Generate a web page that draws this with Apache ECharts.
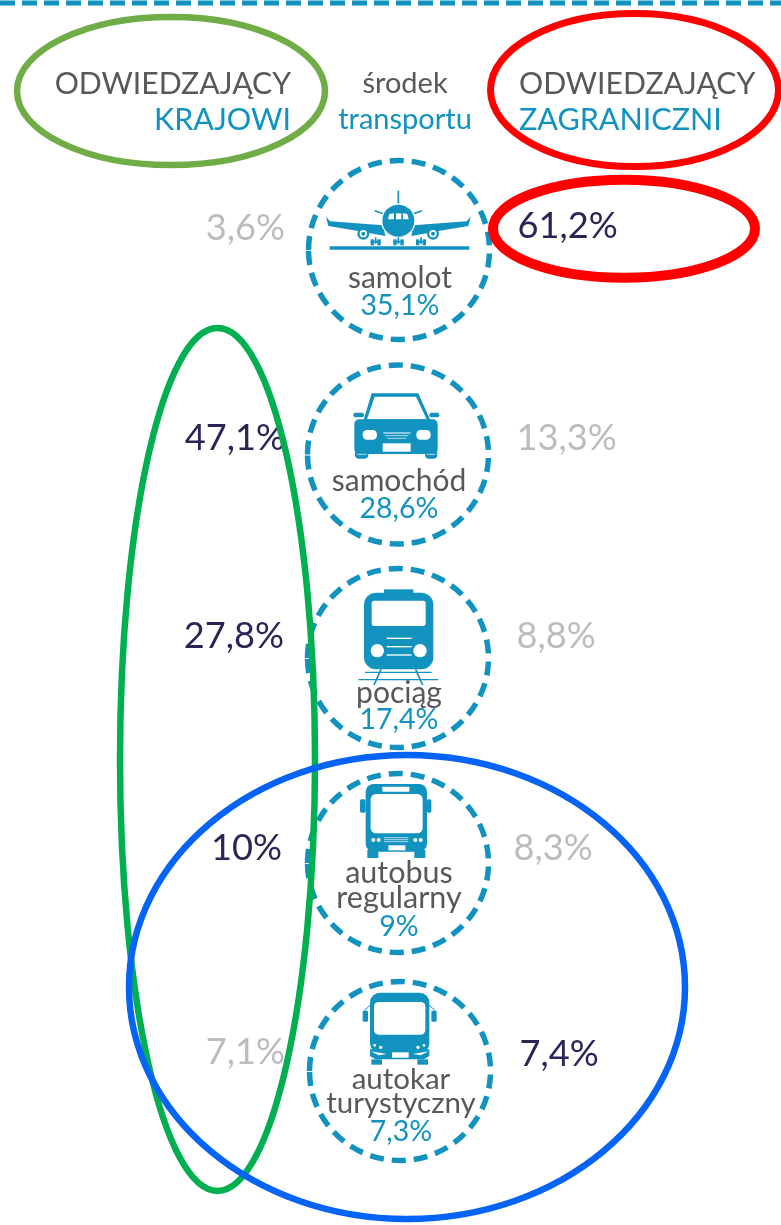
<!DOCTYPE html>
<html>
<head>
<meta charset="utf-8">
<style>
  html, body { margin: 0; padding: 0; background: #fff; }
  #chart { width: 781px; height: 1225px; }
</style>
<script src="https://cdn.jsdelivr.net/npm/echarts@6/dist/echarts.min.js"></script>
</head>
<body>
<div id="chart"></div>
<script>
// dane
var transportNames = [['samolot'], ['samochód'], ['pociąg'], ['autobus', 'regularny'], ['autokar', 'turystyczny']];
var totalShare = ['35,1%', '28,6%', '17,4%', '9%', '7,3%'];
var domesticShare = ['3,6%', '47,1%', '27,8%', '10%', '7,1%'];
var foreignShare = ['61,2%', '13,3%', '8,8%', '8,3%', '7,4%'];
var domesticHighlighted = [false, true, true, true, false];
var foreignHighlighted = [true, false, false, false, true];

var BLUE = '#1192bf', GREY = '#58585a', LIGHT = '#bcbcbe', NAVY = '#2a2557';
var FONT = 'Lato';

// uklad strony (px)
var circleX = [399, 398, 398, 398, 400];
var circleY = [250, 454.5, 658, 863, 1071];
var domesticX = [285, 285, 284, 282, 285];
var domesticY = [228, 438, 636, 848, 1052];
var foreignX = [517.5, 516.5, 516.5, 513.5, 519.5];
var foreignY = [226, 438, 636, 848, 1054];
var nameY = [[278], [481], [693], [873, 898], [1079, 1103]];
var nameSize = [30, 30, 30, 30.5, 29.5];
var shareY = [306, 509, 720, 927, 1132];
var iconOrigin = [[300, 160], [300, 360], [300, 360], [300, 770], [300, 770]];

function textItem(x, y, text, color, size, align) {
    return {
        value: [x, y],
        label: { show: true, position: 'inside', formatter: text, color: color, fontSize: size, fontFamily: FONT, fontWeight: 400, align: align, verticalAlign: 'middle' }
    };
}

var texts = [
    textItem(291, 84, 'ODWIEDZAJĄCY', GREY, 30.2, 'right'),
    textItem(291, 120, 'KRAJOWI', BLUE, 30.5, 'right'),
    textItem(405, 84, 'środek', GREY, 29, 'center'),
    textItem(405, 120, 'transportu', BLUE, 29, 'center'),
    textItem(519, 84, 'ODWIEDZAJĄCY', GREY, 30.2, 'left'),
    textItem(519, 120, 'ZAGRANICZNI', BLUE, 30.5, 'left')
];
for (var i = 0; i < 5; i++) {
    texts.push(textItem(domesticX[i], domesticY[i], domesticShare[i], domesticHighlighted[i] ? NAVY : LIGHT, 36.2, 'right'));
    texts.push(textItem(foreignX[i], foreignY[i], foreignShare[i], foreignHighlighted[i] ? NAVY : LIGHT, 36.2, 'left'));
    texts.push(textItem(circleX[i] + 1, shareY[i], totalShare[i], BLUE, 28.5, 'center'));
    for (var j = 0; j < transportNames[i].length; j++) {
        texts.push(textItem(circleX[i] + 1, nameY[i][j], transportNames[i][j], GREY, nameSize[i], 'center'));
    }
}

// ikony rysowane w ukladzie powiekszenia 3x
function r(x1, y1, x2, y2, c, rad) {
    return { type: 'rect', shape: { x: x1, y: y1, width: x2 - x1, height: y2 - y1, r: rad || 0 }, style: { fill: c || BLUE } };
}
function c(x, y, rad, col) {
    return { type: 'circle', shape: { cx: x, cy: y, r: rad }, style: { fill: col || BLUE } };
}
function p(points, col) {
    return { type: 'polygon', shape: { points: points }, style: { fill: col || BLUE } };
}
function l(x1, y1, x2, y2, w, col) {
    return { type: 'line', shape: { x1: x1, y1: y1, x2: x2, y2: y2 }, style: { stroke: col || BLUE, lineWidth: w || 3 } };
}

function planeIcon() {
    return [
        l(295, 92, 295, 135, 5),
        l(224, 152, 252, 162, 5), l(366, 152, 338, 162, 5),
        p([[78, 170], [90, 184], [250, 196], [256, 228], [170, 212], [85, 198]]),
        p([[512, 170], [500, 184], [340, 196], [334, 228], [420, 212], [505, 198]]),
        c(190, 221, 18), c(190, 221, 11, '#fff'), c(190, 221, 6),
        c(399, 221, 18), c(399, 221, 11, '#fff'), c(399, 221, 6),
        c(295, 182, 52, '#fff'), c(295, 182, 48),
        p([[264, 178], [268, 162], [282, 160], [282, 178]], '#fff'),
        r(288, 160, 304, 178, '#fff'),
        p([[326, 178], [322, 162], [309, 160], [309, 178]], '#fff'),
        l(227, 232, 227, 252, 5), l(295, 232, 295, 252, 5), l(363, 232, 363, 252, 5),
        r(212, 238, 222, 256), r(232, 238, 242, 256), r(280, 238, 290, 256), r(301, 238, 311, 256),
        r(348, 238, 358, 256), r(368, 238, 378, 256),
        l(212, 245, 242, 245, 5), l(280, 245, 311, 245, 5), l(348, 245, 378, 245, 5),
        r(89, 259, 508, 269)
    ];
}
function carIcon() {
    return [
        p([[215, 100], [355, 100], [392, 182], [190, 182]]),
        p([[224, 110], [348, 110], [380, 178], [201, 178]], '#fff'),
        r(160, 158, 192, 172, BLUE, 6), r(388, 158, 418, 172, BLUE, 6),
        r(163, 178, 413, 282, BLUE, 14),
        r(165, 270, 205, 296, BLUE, 12), r(375, 270, 412, 296, BLUE, 12),
        l(172, 283, 200, 283, 2, '#fff'), l(380, 283, 406, 283, 2, '#fff'),
        r(188, 210, 231, 239, '#fff', 13), r(349, 210, 392, 239, '#fff', 13),
        l(250, 219, 332, 219, 3, '#fff'), l(255, 227, 325, 227, 2, '#fff'), l(262, 235, 318, 235, 2, '#fff'),
        r(248, 250, 332, 275, '#fff')
    ];
}
function trainIcon() {
    return [
        r(252, 688, 340, 705),
        r(192, 698, 400, 928, BLUE, 36),
        r(215, 722, 377, 798, '#fff', 8),
        c(232, 872, 20, '#fff'), c(360, 872, 20, '#fff'),
        l(260, 835, 335, 835, 4, '#fff'), l(260, 860, 335, 860, 4, '#fff'), l(260, 885, 335, 885, 4, '#fff'),
        l(243, 928, 222, 975, 5), l(347, 928, 368, 975, 5),
        l(195, 937, 395, 937, 4), l(175, 959, 415, 959, 4)
    ];
}
function busIcon() {
    return [
        r(197, 42, 381, 245, BLUE, 24),
        r(180, 88, 197, 128, BLUE, 5), r(381, 88, 394, 128, BLUE, 5),
        r(247, 50, 328, 65, '#fff', 2),
        r(212, 72, 368, 190, '#fff', 16),
        c(220, 210, 6, '#fff'), c(236, 210, 6, '#fff'), c(346, 210, 6, '#fff'), c(362, 210, 6, '#fff'),
        l(252, 203, 325, 203, 2, '#fff'), l(252, 209, 325, 209, 2, '#fff'), l(252, 215, 325, 215, 2, '#fff'),
        r(265, 226, 316, 241, '#fff'),
        r(202, 240, 235, 264), r(343, 240, 376, 264)
    ];
}
function coachIcon() {
    return [
        r(210, 668, 388, 850, BLUE, 30),
        r(188, 722, 204, 755, BLUE, 4), r(394, 722, 410, 755, BLUE, 4),
        l(192, 722, 215, 702, 3), l(406, 722, 383, 702, 3),
        r(222, 696, 376, 794, '#fff', 14),
        p([[210, 838], [388, 838], [388, 858], [372, 868], [226, 868], [210, 858]]),
        c(224, 826, 4, '#fff'), c(242, 832, 5, '#fff'), c(354, 832, 5, '#fff'), c(372, 826, 4, '#fff'),
        p([[212, 844], [260, 852], [236, 856]], '#fff'), p([[386, 844], [338, 852], [362, 856]], '#fff'),
        r(276, 847, 326, 863, '#fff'),
        r(214, 868, 246, 884), r(352, 868, 384, 884)
    ];
}
var iconBuilders = [planeIcon, carIcon, trainIcon, busIcon, coachIcon];

var chart = echarts.init(document.getElementById('chart'));
chart.setOption({
    animation: false,
    grid: { left: 0, right: 0, top: 0, bottom: 0 },
    xAxis: { type: 'value', min: 0, max: 781, show: false },
    yAxis: { type: 'value', min: 0, max: 1225, inverse: true, show: false },
    series: [
        {
            // gorna przerywana linia
            type: 'line', symbol: 'none', silent: true,
            data: [[0, 3], [781, 3]],
            lineStyle: { color: BLUE, width: 5, type: [15, 7] }
        },
        {
            // kola przerywane
            type: 'custom', silent: true, z: 2,
            data: circleX.map(function (x, i) { return [x, circleY[i]]; }),
            renderItem: function (params, api) {
                var pt = api.coord([api.value(0), api.value(1)]);
                return { type: 'ellipse', shape: { cx: pt[0], cy: pt[1], rx: 90.5, ry: 89.5 },
                    style: { fill: 'none', stroke: BLUE, lineWidth: 5.5, lineDash: [14, 8] } };
            }
        },
        {
            // ikony
            type: 'custom', silent: true, z: 3,
            data: iconOrigin,
            renderItem: function (params, api) {
                var pt = api.coord([api.value(0), api.value(1)]);
                return { type: 'group', x: pt[0], y: pt[1], scaleX: 1 / 3, scaleY: 1 / 3, children: iconBuilders[params.dataIndex]() };
            }
        },
        {
            type: 'scatter', silent: true, z: 4, symbolSize: 0,
            itemStyle: { opacity: 1 },
            data: texts
        },
        {
            // obwiednie
            type: 'custom', silent: true, z: 5,
            dimensions: ['cx', 'cy', 'rx', 'ry', 'w'],
            data: [
                [171, 91, 154, 74, 6.5],
                [634.5, 90, 144, 76.5, 7],
                [624, 228.7, 131, 49, 10],
                [217.5, 759.5, 97.5, 431.5, 6.5],
                [407, 987, 278, 232, 6.5]
            ],
            renderItem: function (params, api) {
                var pt = api.coord([api.value(0), api.value(1)]);
                var colors = ['#70ad47', '#ff0000', '#ff0000', '#00b050', '#0563f5'];
                return { type: 'ellipse', shape: { cx: pt[0], cy: pt[1], rx: api.value(2), ry: api.value(3) },
                    style: { fill: 'none', stroke: colors[params.dataIndex], lineWidth: api.value(4) } };
            }
        }
    ]
});
</script>
</body>
</html>
